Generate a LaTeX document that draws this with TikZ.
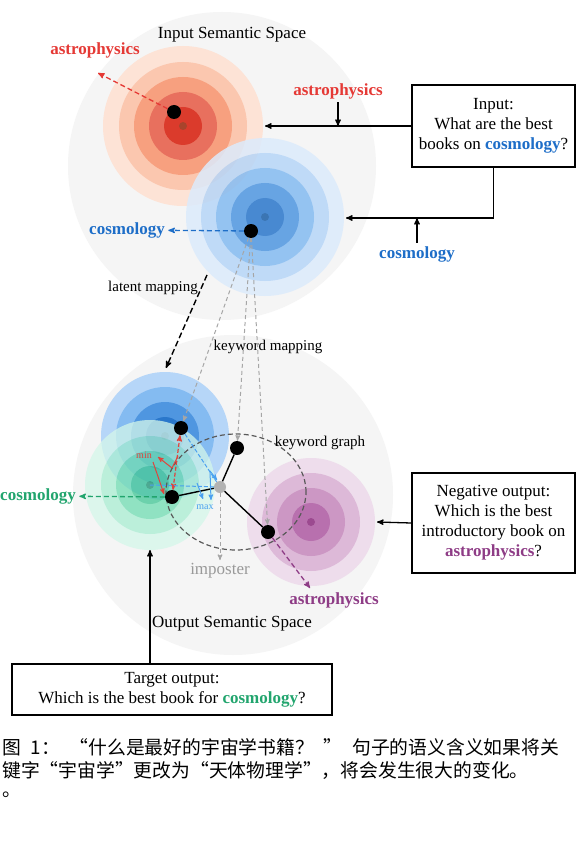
\documentclass[tikz,border=0pt]{standalone}
\usepackage{fontspec}
\setmainfont{Liberation Serif}
\newfontfamily\cjk{Noto Sans CJK SC}
\usetikzlibrary{arrows}
\usepackage{xcolor}

\definecolor{astrored}{HTML}{E53935}
\definecolor{cosblue}{HTML}{1E6EC8}
\definecolor{cosgreen}{HTML}{22A56E}
\definecolor{astropurple}{HTML}{8E3C86}
\definecolor{minred}{HTML}{E0443C}
\definecolor{maxblue}{HTML}{4AA0F0}
% ring colours, outer to inner
\definecolor{redA}{HTML}{FDE3D6}
\definecolor{redB}{HTML}{FBC7AF}
\definecolor{redC}{HTML}{F7A07F}
\definecolor{redD}{HTML}{E8705E}
\definecolor{redE}{HTML}{DB3B2C}
\definecolor{redF}{HTML}{A8442C}
\definecolor{bluA}{HTML}{DCEBFC}
\definecolor{bluB}{HTML}{B6D6F8}
\definecolor{bluC}{HTML}{84BBF1}
\definecolor{bluD}{HTML}{4F96E0}
\definecolor{bluE}{HTML}{2A77CB}
\definecolor{bluF}{HTML}{1B5FA8}
\definecolor{grnA}{HTML}{D4F7EA}
\definecolor{grnB}{HTML}{A8EDD2}
\definecolor{grnC}{HTML}{6FDCB1}
\definecolor{grnD}{HTML}{3FC594}
\definecolor{grnE}{HTML}{2A9A70}
\definecolor{purA}{HTML}{EEDDEC}
\definecolor{purB}{HTML}{DDB9D8}
\definecolor{purC}{HTML}{CC97C4}
\definecolor{purD}{HTML}{B870AE}
\definecolor{purE}{HTML}{9C4A90}

\begin{document}
\begin{tikzpicture}[x=1pt,y=-1pt,>=stealth',
 keydot/.style={circle,fill=black,inner sep=0pt,minimum size=14pt},
 fakedot/.style={circle,fill=black!30,inner sep=0pt,minimum size=12pt},
 qbox/.style={draw,line width=1.3pt,align=center,inner sep=2pt,font=\fontsize{17}{20}\selectfont},
 kw/.style={font=\fontsize{17}{20}\selectfont\bfseries},
 title/.style={font=\fontsize{17}{20}\selectfont},
 note/.style={font=\fontsize{15}{18}\selectfont},
 tinytext/.style={font=\fontsize{10}{12}\selectfont,inner sep=1pt},
 wire/.style={line width=1.3pt,->},
 pull/.style={line width=1.3pt,dash pattern=on 5pt off 3pt,->},
 captext/.style={font=\cjk\fontsize{18.8}{24}\selectfont,anchor=west,inner sep=0pt},
]
\fill[white] (0,0) rectangle (576,842);
\useasboundingbox (0,0) rectangle (576,842);

% semantic spaces
\fill[black!4] (222,166) circle[radius=154pt];
\fill[black!4] (233,495) circle[radius=160pt];

% clusters
\coordinate (redc) at (183,126);
\coordinate (bluec) at (265,217);
\coordinate (lbluec) at (165,436);
\coordinate (greenc) at (150,485);
\coordinate (purplec) at (311,522);
\foreach \r/\c in {80/redA,64/redB,49/redC,34/redD,19/redE,4/redF}
 \fill[\c] (redc) circle[radius=\r pt];
\begin{scope}[transparency group,opacity=.85]
\foreach \r/\c in {79/bluA,64/bluB,49/bluC,34/bluD,19/bluE,4/bluF}
 \fill[\c] (bluec) circle[radius=\r pt];
\end{scope}
\foreach \r/\c in {64/bluB,49/bluC,34/bluD,19/bluE,4/bluF}
 \fill[\c] (lbluec) circle[radius=\r pt];
\begin{scope}[transparency group,opacity=.75]
\foreach \r/\c in {65/grnA,49/grnB,34/grnC,19/grnD,4/grnE}
 \fill[\c] (greenc) circle[radius=\r pt];
\end{scope}
\foreach \r/\c in {64/purA,49/purB,34/purC,19/purD,4/purE}
 \fill[\c] (purplec) circle[radius=\r pt];

% keyword graph
\draw[black!65,line width=1.2pt,dash pattern=on 5pt off 3pt] (236,492) ellipse[x radius=70pt,y radius=58pt];

% key points
\node[keydot] (redkey) at (174,112) {};
\node[keydot] (bluekey) at (251,231) {};
\node[keydot] (kblue) at (181,428) {};
\node[keydot] (kmid) at (237,448) {};
\node[keydot] (kgreen) at (172,497) {};
\node[keydot] (kpurple) at (268,532) {};
\node[fakedot] (fake) at (220,487) {};

% labels
\node[title] (intitle) at (232,35) {Input Semantic Space};
\node[title] (outtitle) at (232,624) {Output Semantic Space};
\node[kw,astrored] (astroout) at (95,50) {astrophysics};
\node[kw,astrored] (astroin) at (338,91) {astrophysics};
\node[kw,cosblue] (cosout) at (127,230) {cosmology};
\node[kw,cosblue] (cosin) at (417,254) {cosmology};
\node[kw,cosgreen] (tgtout) at (38,496) {cosmology};
\node[kw,astropurple] (negout) at (334,600) {astrophysics};
\node[note] (latlbl) at (153,288) {latent mapping};
\node[note] (kwlbl) at (268,347) {keyword mapping};
\node[note] (graphlbl) at (320,443) {keyword graph};
\node[title,black!40] (implbl) at (220,571) {imposter};
\node[tinytext,minred] (minlbl) at (144,455) {min};
\node[tinytext,maxblue] (maxlbl) at (205,507) {max};

% boxes
\node[qbox,minimum width=163pt,minimum height=82pt] (inbox) at (493.5,126)
 {Input:\\What are the best\\books on \textcolor{cosblue}{\textbf{cosmology}}?};
\node[qbox,minimum width=163pt,minimum height=100pt] (negbox) at (493.5,523)
 {Negative output:\\Which is the best\\introductory book on\\\textcolor{astropurple}{\textbf{astrophysics}}?};
\node[qbox,minimum width=320pt,minimum height=51pt] (tgtbox) at (172,689.5)
 {Target output:\\Which is the best book for \textcolor{cosgreen}{\textbf{cosmology}}?};

% inputs
\coordinate (rededge) at (265,126);
\coordinate (blueedge) at (346,218);
\coordinate (purpedge) at (377,522);
\coordinate (greenedge) at (150,550);
\draw[wire] (inbox.west) -- (rededge);
\draw[wire] (astroin.south) -- (astroin.south |- rededge);
\draw[wire] (inbox.south) |- (blueedge);
\draw[wire] (cosin.north) -- (cosin.north |- blueedge);
\draw[wire] (negbox.west) -- (purpedge);
\draw[wire] (tgtbox.north -| greenedge) -- (greenedge);

% decoded keywords
\coordinate (redtip) at (98,73);
\coordinate (purptip) at (310,588);
\draw[pull,astrored] (redkey) -- (redtip);
\draw[pull,cosblue] (bluekey) -- (cosout);
\draw[pull,cosgreen] (kgreen) -- (tgtout);
\draw[pull,astropurple] (kpurple) -- (purptip);

% mappings
\coordinate (latstart) at (207,275);
\coordinate (latend) at (166,368);
\draw[line width=1.4pt,dash pattern=on 6pt off 3pt,->] (latstart) -- (latend);
\foreach \k in {kblue,kmid,kpurple}
 \draw[black!35,line width=1pt,dash pattern=on 4pt off 3pt,->] (bluekey) -- (\k);
\draw[black!35,line width=1pt,dash pattern=on 4pt off 3pt,->] (fake) -- (implbl);

% graph edges
\draw[line width=1.4pt] (kgreen) -- (fake);
\draw[line width=1.4pt] (fake) -- (kmid);
\draw[line width=1.4pt] (fake) -- (kpurple);

% min / max
\draw[minred,line width=1.2pt,dash pattern=on 4pt off 2pt,<->] (kblue) -- (kgreen);
\draw[minred,line width=1pt,->] (172,468) -- (158,457);
\draw[minred,line width=1pt] (172,468) -- (178,456);
\draw[minred,line width=1pt,->] (153,462) -- (164,494);
\draw[maxblue,line width=1pt,dash pattern=on 4pt off 2pt] (greenc) -- (fake);
\draw[maxblue,line width=1pt,dash pattern=on 4pt off 2pt] (kblue) -- (fake);
\draw[maxblue,line width=1pt,->] (197,483) -- (203,499);
\draw[maxblue,line width=1pt,->] (210,471) -- (211,500);
\draw[maxblue,line width=1pt,->] (210,471) -- (217,480);

% caption
\node[captext] (cap1) at (2,747) {\makebox[557pt][l]{图\hfill{}1：\hfill{}“什么是最好的宇宙学书籍？\hfill{}”\hfill{}句子的语义含义如果将关}};
\node[captext] (cap2) at (2,771) {键字“宇宙学”更改为“天体物理学”，将会发生很大的变化。};
\node[captext] (cap3) at (2,795) {。};
\end{tikzpicture}
\end{document}
